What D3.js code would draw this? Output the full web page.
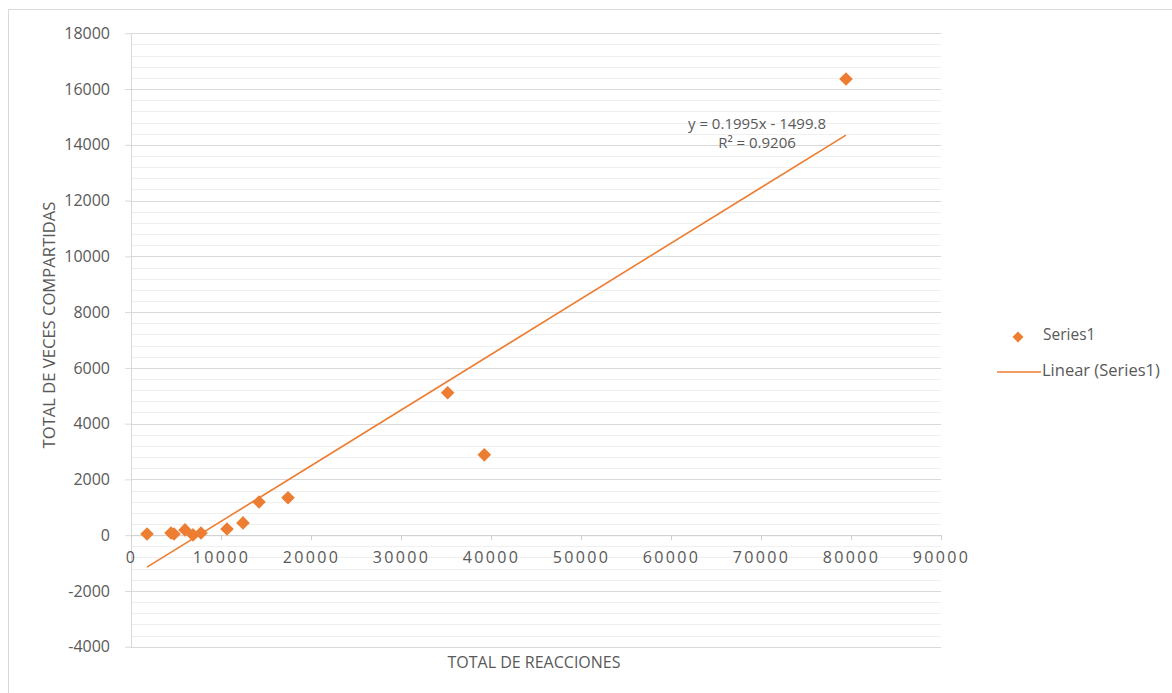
<!DOCTYPE html>
<html><head><meta charset="utf-8">
<script src="https://cdn.jsdelivr.net/npm/d3@7"></script>
<style>
body{margin:0;background:#fff}
svg{display:block}
text{font-family:"Open Sans",sans-serif;fill:#595959}
</style>
</head><body><svg id="c" width="1172" height="693"></svg>
<script>
// ---- data ----
const reacciones  = [1778, 4444, 4778, 6000, 6889, 7778, 10667, 12444, 14222, 17444, 35185, 39259, 79444];
const compartidas = [40, 80, 40, 190, 10, 80, 220, 440, 1190, 1340, 5110, 2880, 16360];
const xTicks = [0, 10000, 20000, 30000, 40000, 50000, 60000, 70000, 80000, 90000];
const yTicks = [-4000, -2000, 0, 2000, 4000, 6000, 8000, 10000, 12000, 14000, 16000, 18000];
const trendSlope = 0.1995, trendIntercept = -1499.8;
const seriesName = "Series1", trendName = "Linear (Series1)";
const xTitle = "TOTAL DE REACCIONES", yTitle = "TOTAL DE VECES COMPARTIDAS";
const eqLabel = "y = 0.1995x - 1499.8", r2Label = "R² = 0.9206";

const orange = "#ED7D31";
const svg = d3.select("#c");

svg.append("rect").attr("x",8.5).attr("y",9.5).attr("width",1300).attr("height",800)
  .attr("fill","#fff").attr("stroke","#d9d9d9");

const x = d3.scaleLinear().domain([0, 90000]).range([131, 941]);
const y = d3.scaleLinear().domain([-4000, 18000]).range([646.7, 33.3]);
const fmt = d => String(d);

// gridlines
const minor = d3.range(-4000, 18001, 400);
svg.append("g").selectAll("line").data(minor).join("line")
  .attr("x1", x(0)).attr("x2", x(90000))
  .attr("y1", d => Math.round(y(d))+0.5).attr("y2", d => Math.round(y(d))+0.5)
  .attr("stroke", d => (d % 2000 === 0) ? "#d9d9d9" : "#efefef")
  .attr("stroke-width", d => (d % 2000 === 0) ? 1.2 : 1);

// y axis
const ya = svg.append("g").attr("transform", `translate(${x(0)},0)`)
  .call(d3.axisLeft(y).tickValues(yTicks).tickSize(6).tickSizeOuter(0).tickPadding(15).tickFormat(fmt));
ya.select(".domain").attr("stroke","#d9d9d9");
ya.selectAll(".tick line").attr("stroke","#d9d9d9");
ya.selectAll(".tick text").attr("font-size",16).attr("fill","#595959").attr("font-family","Open Sans");

// x axis
const xa = svg.append("g").attr("transform", `translate(0,${y(0)})`)
  .call(d3.axisBottom(x).tickValues(xTicks).tickSize(5).tickSizeOuter(0).tickFormat(fmt));
xa.select(".domain").attr("stroke","#d0d0d0");
xa.selectAll(".tick line").attr("stroke","#d0d0d0");
xa.selectAll(".tick text").attr("font-size",16).attr("fill","#595959").attr("font-family","Open Sans")
  .attr("y", 22).attr("dy","0.35em").style("letter-spacing","2.4px");

// trendline
const xMin = d3.min(reacciones), xMax = d3.max(reacciones);
svg.append("line")
  .attr("x1", x(xMin)).attr("y1", y(trendSlope*xMin + trendIntercept))
  .attr("x2", x(xMax)).attr("y2", y(trendSlope*xMax + trendIntercept))
  .attr("stroke", orange).attr("stroke-width", 1.6);

// points
const diamond = s => `M0,${-s}L${s},0L0,${s}L${-s},0Z`;
svg.append("g").selectAll("path").data(reacciones).join("path")
  .attr("transform", (d,i) => `translate(${x(d)},${y(compartidas[i])})`)
  .attr("d", diamond(6.8)).attr("fill", orange);

// equation
svg.append("text").attr("x",757).attr("y",123.5).attr("dy","0.35em").attr("text-anchor","middle")
  .attr("font-size",15).text(eqLabel);
svg.append("text").attr("x",757).attr("y",142.5).attr("dy","0.35em").attr("text-anchor","middle")
  .attr("font-size",15).text(r2Label);

// axis titles
svg.append("text").attr("x",534).attr("y",662).attr("dy","0.35em").attr("text-anchor","middle")
  .attr("font-size",16).text(xTitle);
svg.append("text").attr("transform","translate(49,325) rotate(-90)").attr("dy","0.35em")
  .attr("text-anchor","middle").attr("font-size",16.6).text(yTitle);

// legend
const lg = svg.append("g");
lg.append("path").attr("transform","translate(1018,337)").attr("d", diamond(5.5)).attr("fill", orange);
lg.append("text").attr("x",1043).attr("y",335).attr("dy","0.35em").attr("font-size",15.5).text(seriesName);
lg.append("line").attr("x1",997).attr("x2",1041).attr("y1",372).attr("y2",372).attr("stroke",orange).attr("stroke-width",1.6);
lg.append("text").attr("x",1042).attr("y",370).attr("dy","0.35em").attr("font-size",16.5).text(trendName);
</script>
</body></html>
